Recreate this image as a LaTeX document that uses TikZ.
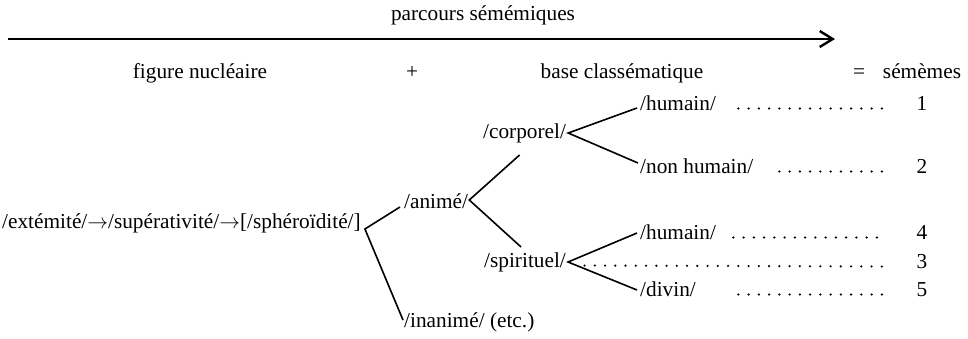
\documentclass[tikz,border=0pt]{standalone}
\usepackage{fontspec}
\setmainfont{Liberation Serif}
\usetikzlibrary{arrows.meta}

\begin{document}
\begin{tikzpicture}[x=1pt,y=-1pt,
        every node/.style={inner sep=0pt, font=\fontsize{21.3}{26}\selectfont},
        lbl/.style={anchor=base west},
        num/.style={anchor=base},
        branch/.style={line width=1.6pt},
        leader/.style={line width=2.4pt, line cap=round, dash pattern=on 0pt off 10.25pt}]
        \useasboundingbox (0,0) rectangle (968,338);

        % en-tete
        \node[num] (parcours) at (483,20) {parcours sémémiques};
        \coordinate (flecheA) at (8,39);
        \coordinate (flecheB) at (835,39);
        \draw[line width=2pt,-{Straight Barb[length=13pt,width=16pt,line width=2.4pt]}] (flecheA) -- (flecheB);

        \node[num] (figure)  at (200,78) {figure nucléaire};
        \node[num] (plus)    at (412,78) {+};
        \node[num] (base)    at (622,78) {base classématique};
        \node[num] (egal)    at (859,78) {=};
        \node[num] (sememes) at (922,78) {sémèmes};

        % arbre
        \node[lbl] (chaine)    at (2,228)   {/extémité/$\rightarrow$/supérativité/$\rightarrow$[/sphéroïdité/]};
        \node[lbl] (anime)     at (404,208) {/animé/};
        \node[lbl] (inanime)   at (404,327) {/inanimé/ (etc.)};
        \node[lbl] (corporel)  at (483,138) {/corporel/};
        \node[lbl] (spirituel) at (484,267) {/spirituel/};
        \node[lbl] (humainA)   at (640,110) {/humain/};
        \node[lbl] (nonhumain) at (640,173) {/non humain/};
        \node[lbl] (humainB)   at (640,239) {/humain/};
        \node[lbl] (divin)     at (640,296) {/divin/};

        \node[num] (s1) at (922,110) {1};
        \node[num] (s2) at (922,173) {2};
        \node[num] (s4) at (922,239) {4};
        \node[num] (s3) at (922,268) {3};
        \node[num] (s5) at (922,296) {5};

        \draw[branch] ([xshift=-4pt,yshift=1pt]anime.base west) -- ([xshift=4pt,yshift=-1pt]chaine.base east)
                      -- ([xshift=-1pt,yshift=7pt]inanime.base west);
        \draw[branch] ([xshift=-5pt,yshift=-17pt]corporel.base) -- ([xshift=1pt,yshift=8pt]anime.base east)
                      -- ([xshift=-4pt,yshift=20pt]spirituel.base);
        \draw[branch] ([xshift=-3pt,yshift=2pt]humainA.base west) -- ([xshift=2pt,yshift=5pt]corporel.base east)
                      -- ([xshift=-2pt,yshift=10pt]nonhumain.base west);
        \draw[branch] ([xshift=-3pt,yshift=6pt]humainB.base west) -- ([xshift=2pt,yshift=5pt]spirituel.base east)
                      -- ([xshift=-3pt,yshift=6pt]divin.base west);

        % pointilles
        \draw[leader] ([xshift=22.3pt,yshift=1.5pt]humainA.base east)   -- ([xshift=-40pt,yshift=1.5pt]s1.base);
        \draw[leader] ([xshift=26pt,yshift=1.5pt]nonhumain.base east)   -- ([xshift=-40pt,yshift=1.5pt]s2.base);
        \draw[leader] ([xshift=17.3pt,yshift=1.5pt]humainB.base east)   -- ([xshift=-45pt,yshift=1.5pt]s4.base);
        \draw[leader] ([xshift=18.5pt,yshift=1.5pt]spirituel.base east) -- ([xshift=-40pt,yshift=1.5pt]s3.base);
        \draw[leader] ([xshift=42.4pt,yshift=1.5pt]divin.base east)     -- ([xshift=-40pt,yshift=1.5pt]s5.base);
\end{tikzpicture}
\end{document}
